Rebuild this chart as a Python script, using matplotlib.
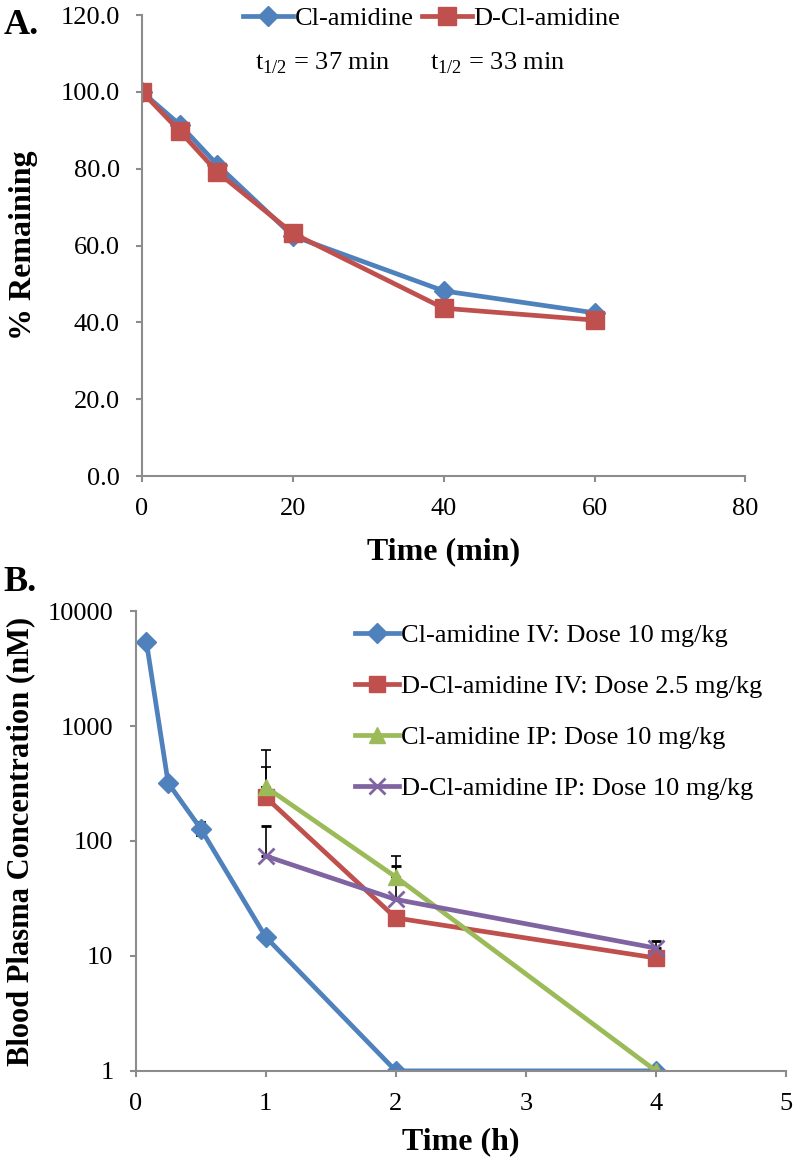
import numpy as np
import matplotlib.pyplot as plt
from matplotlib.ticker import FixedLocator, FixedFormatter

plt.rcParams['font.family'] = ['Liberation Serif', 'DejaVu Serif']
plt.rcParams['mathtext.fontset'] = 'custom'
plt.rcParams['mathtext.rm'] = 'Liberation Serif'

# panel A: stability
timeMin = [0, 5, 10, 20, 40, 60]
clAmidineA = [100.0, 91.5, 81.0, 62.5, 48.2, 42.5]
dClAmidineA = [100.0, 89.8, 79.1, 63.2, 43.7, 40.6]

# panel B: plasma concentration
ivTime = [0.083, 0.25, 0.5, 1, 2, 4]
clIV = [5350, 319, 128, 14.6, 1, 1]
clIVErr = [0, 0, 18, 0, 0, 0]
laterTime = [1, 2, 4]
dClIV = [240, 21.4, 9.6]
dClIVErr = [200, 0, 0]
clIP = [295, 48.6, 1]
clIPErr = [325, 26, 0]
dClIP = [74, 31, 11.7]
dClIPErr = [61, 30, 1.8]

blue = '#4F81BD'
red = '#C0504D'
green = '#9BBB59'
purple = '#8064A2'
axisGray = '#8C8C8C'

fig = plt.figure(figsize=(7.98, 11.64), dpi=100)

def styleAxes(ax):
    for s in ['top', 'right']:
        ax.spines[s].set_visible(False)
    for s in ['left', 'bottom']:
        ax.spines[s].set_color(axisGray)
        ax.spines[s].set_linewidth(1.5)
    ax.tick_params(direction='out', color=axisGray, width=1.5, length=4,
                   labelsize=19, pad=12)

# ---- A ----
axA = fig.add_axes([0.178, 0.591, 0.756, 0.396])
axA.plot(timeMin, clAmidineA, color=blue, lw=3.4, marker='D', ms=10,
         label='Cl-amidine')
axA.plot(timeMin, dClAmidineA, color=red, lw=3.4, marker='s', ms=13,
         label='D-Cl-amidine')
axA.set_xlim(0, 80)
axA.set_ylim(0, 120)
axA.set_xticks([0, 20, 40, 60, 80])
axA.set_yticks(np.arange(0, 121, 20))
axA.set_yticklabels(['%.1f' % v for v in np.arange(0, 121, 20)])
styleAxes(axA)
axA.set_xlabel('Time (min)', fontsize=23, fontweight='bold', labelpad=12)
axA.set_ylabel('% Remaining', fontsize=23, fontweight='bold')
axA.yaxis.set_label_coords(-0.172, 0.5)
axA.legend(loc='upper center', bbox_to_anchor=(0.48, 1.07), ncol=2,
           frameon=False, fontsize=19, handlelength=1.9, handletextpad=0.05,
           columnspacing=0.3)
axA.text(0.187, 0.896, 't$_{\\mathrm{1/2}}$ = 37 min', transform=axA.transAxes,
         fontsize=19, va='center')
axA.text(0.478, 0.896, 't$_{\\mathrm{1/2}}$ = 33 min', transform=axA.transAxes,
         fontsize=19, va='center')
fig.text(0.004, 0.992, 'A.', fontsize=26, fontweight='bold', va='top')

# ---- B ----
axB = fig.add_axes([0.170, 0.080, 0.815, 0.395])
ebKw = dict(ecolor='black', elinewidth=1.2, capsize=3.5, capthick=1.2)
axB.errorbar(ivTime, clIV, yerr=clIVErr, color=blue, lw=3.4, marker='D',
             ms=10, label='Cl-amidine IV: Dose 10 mg/kg', **ebKw)
axB.errorbar(laterTime, dClIV, yerr=[[0]*3, dClIVErr], color=red, lw=3.4,
             marker='s', ms=12, label='D-Cl-amidine IV: Dose 2.5 mg/kg', **ebKw)
axB.errorbar(laterTime, clIP, yerr=[[0]*3, clIPErr], color=green, lw=3.4,
             marker='^', ms=12, label='Cl-amidine IP: Dose 10 mg/kg', **ebKw)
axB.errorbar(laterTime, dClIP, yerr=[[0]*3, dClIPErr], color=purple, lw=3.4,
             marker='x', ms=11, mew=2, label='D-Cl-amidine IP: Dose 10 mg/kg',
             **ebKw)
axB.set_yscale('log')
axB.set_xlim(0, 5)
axB.set_ylim(1, 10000)
axB.yaxis.set_major_locator(FixedLocator([1, 10, 100, 1000, 10000]))
axB.yaxis.set_major_formatter(FixedFormatter(['1', '10', '100', '1000', '10000']))
axB.yaxis.set_minor_locator(FixedLocator([]))
axB.set_xticks([0, 1, 2, 3, 4, 5])
styleAxes(axB)
axB.set_xlabel('Time (h)', fontsize=23, fontweight='bold', labelpad=9)
axB.set_ylabel('Blood Plasma Concentration (nM)', fontsize=22,
               fontweight='bold')
axB.yaxis.set_label_coords(-0.155, 0.5)
handles, labels = axB.get_legend_handles_labels()
handles = [h[0] for h in handles]
axB.legend(handles, labels, loc='upper left', bbox_to_anchor=(0.3, 1.025),
           frameon=False, fontsize=19, handlelength=1.7, handletextpad=0.05,
           labelspacing=1.05)
fig.text(0.004, 0.514, 'B.', fontsize=26, fontweight='bold', va='top')

fig.savefig('out.png', dpi=100)
